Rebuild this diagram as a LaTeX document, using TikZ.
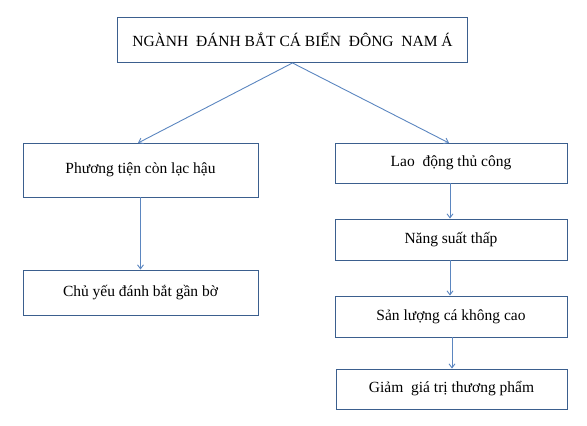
\documentclass[tikz,border=0pt]{standalone}
\usepackage{fontspec}
\setmainfont{Liberation Serif}
\usetikzlibrary{arrows.meta}
\definecolor{boxline}{HTML}{3B5F8E}
\definecolor{arrline}{HTML}{5B86C0}
\tikzset{
  box/.style={draw=boxline, line width=0.9pt, fill=white, inner sep=0pt, font=\fontsize{15.5}{17}\selectfont},
  link/.style={draw=arrline, line width=0.9pt, -{Straight Barb[length=4pt,width=6pt]}}
}
\begin{document}
\begin{tikzpicture}[x=1pt,y=-1pt]
\useasboundingbox (0,0) rectangle (587,426);
\node[box, minimum width=350pt, minimum height=45pt] (top) at (292.5,40) {NGÀNH\ \ ĐÁNH BẮT CÁ BIỂN\ \ ĐÔNG\ \ NAM Á};
\node[box, minimum width=235pt, minimum height=54pt] (l1) at (140.5,170) {Phương tiện còn lạc hậu};
\node[box, minimum width=235pt, minimum height=45pt] (l2) at (140.5,292.5) {Chủ yếu đánh bắt gần bờ};
\node[box, minimum width=232pt, minimum height=40pt] (r1) at (451,163) {Lao\ \ động thủ công};
\node[box, minimum width=232pt, minimum height=41pt] (r2) at (451,239.5) {Năng suất thấp};
\node[box, minimum width=232pt, minimum height=41pt] (r3) at (451,316.5) {Sản lượng cá không cao};
\node[box, minimum width=231pt, minimum height=40pt] (r4) at (451.5,389) {Giảm\ \ giá trị thương phẩm};
\coordinate (l1t) at (138,143);
\coordinate (r1t) at (449,143);
\draw[link] (top.south) -- (l1t);
\draw[link] (top.south) -- (r1t);
\draw[link] (l1.south) -- (l2.north);
\draw[link] (r1.south -| 450,0) -- (r2.north -| 450,0);
\draw[link] (r2.south -| 450,0) -- (r3.north -| 450,0);
\draw[link] (r3.south -| 452,0) -- (r4.north -| 452,0);
\end{tikzpicture}
\end{document}
